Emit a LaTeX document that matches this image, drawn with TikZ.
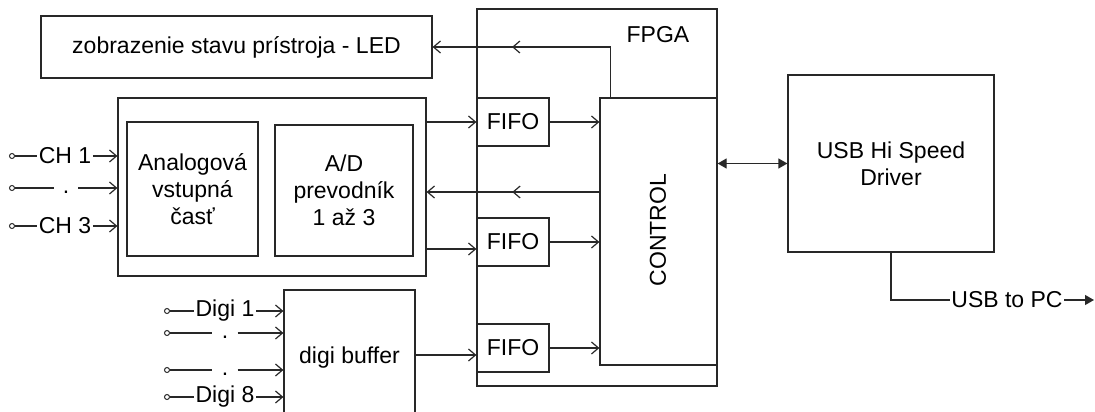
\documentclass[tikz,border=0pt]{standalone}
\usepackage{fontspec}
\setmainfont{Liberation Sans}
\usetikzlibrary{arrows.meta,decorations.markings,calc}
\begin{document}
\begin{tikzpicture}[x=1pt,y=-1pt, line width=1.2pt, draw={rgb,255:red,40;green,40;blue,40},
  font=\fontsize{23}{27}\selectfont,
  box/.style={draw, inner sep=0pt, align=center},
  arr/.style={-{Straight Barb[length=7pt,width=12pt]}},
  farr/.style={-{Triangle[length=9pt,width=10pt]}},
  dfarr/.style={{Triangle[length=9pt,width=10pt]}-{Triangle[length=9pt,width=10pt]}},
  inpin/.style={circle, draw, line width=1pt, inner sep=0pt, minimum size=5pt},
  lbl/.style={inner sep=1pt},
  dotgap/.style={inner sep=0pt, minimum width=23pt, text height=16pt, text depth=5pt},
  midarr/.style={postaction={decorate}, decoration={markings,
     mark=at position #1 with {\arrow{Straight Barb[length=7pt,width=12pt]}}}}
]
\useasboundingbox (0,0) rectangle (1095,412);
\clip (0,0) rectangle (1095,412);

% boxes
\node[box, minimum width=391pt, minimum height=62pt] (led) at (236.5,47) {zobrazenie stavu prístroja - LED};
\node[box, minimum width=240pt, minimum height=377pt] (fpga) at (597,197.5) {};
\node (fpgalbl) at (658,35) {FPGA};
\node[box, minimum width=117pt, minimum height=267pt] (ctrl) at (658.5,231.5) {};
\node[rotate=90] (ctrltxt) at (658,230) {CONTROL};
\node[box, minimum width=72pt, minimum height=48pt] (fifo1) at (513,122) {FIFO};
\node[box, minimum width=72pt, minimum height=48pt] (fifo2) at (513,242) {FIFO};
\node[box, minimum width=72pt, minimum height=48pt] (fifo3) at (513,348) {FIFO};
\node[box, minimum width=308pt, minimum height=178pt] (analog) at (272,187) {};
\node[box, minimum width=131pt, minimum height=134pt] (avst) at (192.5,189) {Analogová\\vstupná\\časť};
\node[box, minimum width=138pt, minimum height=131pt] (adc) at (344,190.5) {A/D\\prevodník\\1 až 3};
\node[box, minimum width=131pt, minimum height=135pt] (digi) at (349.5,357.5) {digi buffer};
\node[box, minimum width=206pt, minimum height=177pt] (usb) at (891,163.5) {USB Hi Speed\\Driver};

% analog inputs
\node[inpin] (p1) at (12,156) {};
\node[lbl] (ch1) at (65,156) {CH 1};
\draw (p1) -- (ch1);
\draw[arr] (ch1) -- (analog.west |- ch1);
\node[inpin] (p2) at (12,188) {};
\node[dotgap] (d2) at (66,188) {.};
\draw (p2) -- (d2.west);
\draw[arr] (d2.east) -- (analog.west |- d2);
\node[inpin] (p3) at (12,226) {};
\node[lbl] (ch3) at (65,226) {CH 3};
\draw (p3) -- (ch3);
\draw[arr] (ch3) -- (analog.west |- ch3);

% digital inputs
\node[inpin] (q1) at (167,311) {};
\node[lbl] (dg1) at (225,311) {Digi 1};
\draw (q1) -- (dg1);
\draw[arr] (dg1) -- (digi.west |- dg1);
\node[inpin] (q2) at (167,333) {};
\node[dotgap, minimum width=24pt] (d3) at (225,333) {.};
\draw (q2) -- (d3.west);
\draw[arr] (d3.east) -- (digi.west |- d3);
\node[inpin] (q3) at (167,370) {};
\node[dotgap, minimum width=24pt] (d4) at (225,370) {.};
\draw (q3) -- (d4.west);
\draw[arr] (d4.east) -- (digi.west |- d4);
\node[inpin] (q4) at (167,397) {};
\node[lbl] (dg8) at (225,397) {Digi 8};
\draw (q4) -- (dg8);
\draw[arr] (dg8) -- (digi.west |- dg8);

% analog -> FIFO
\draw[arr] (analog.east |- fifo1.west) -- (fifo1.west);
\coordinate (in2) at ([yshift=-7pt]fifo2.west);
\draw[arr] (analog.east |- in2) -- (in2);
\coordinate (in3) at ([yshift=-7pt]fifo3.west);
\draw[arr] (digi.east |- in3) -- (in3);

% FIFO -> control
\draw[arr] (fifo1.east) -- (ctrl.west |- fifo1.east);
\draw[arr] (fifo2.east) -- (ctrl.west |- fifo2.east);
\draw[arr] (fifo3.east) -- (ctrl.west |- fifo3.east);

% control -> A/D
\coordinate (cback) at (600,192);
\draw[midarr=0.506, arr] (cback) -- (analog.east |- cback);

% control -> LED
\coordinate (ledsrc) at ([xshift=11pt]ctrl.north west);
\draw[midarr=0.652, arr] (ledsrc) |- (led.east);

% control <-> USB
\draw[dfarr] (ctrl.east |- usb.west) -- (usb.west);

% USB to PC
\node[lbl] (usbpc) at (1007,300) {USB to PC};
\draw (usb.south) |- (usbpc.west);
\coordinate (pcend) at (1094,300);
\draw[farr] (usbpc.east) -- (pcend);
\end{tikzpicture}
\end{document}
